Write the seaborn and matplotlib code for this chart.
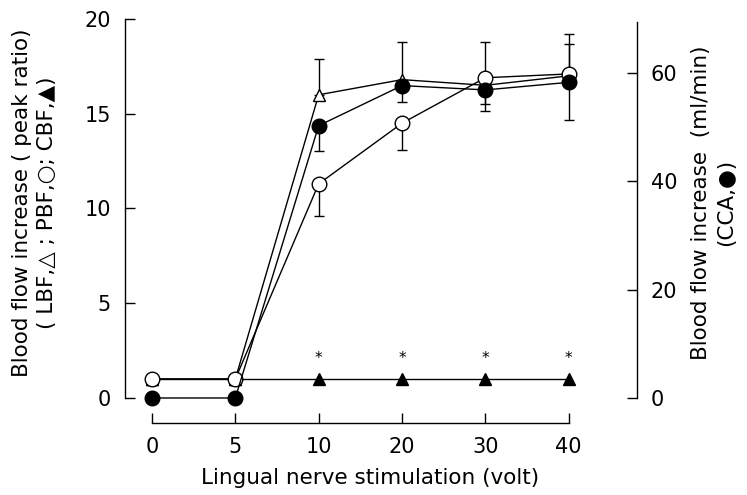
import numpy as np
import pandas as pd
import matplotlib
matplotlib.use("Agg")
import matplotlib.pyplot as plt
import seaborn as sns

# ---- data ----
volts = ["0", "5", "10", "20", "30", "40"]
lbf = [1.0, 1.0, 16.0, 16.8, 16.5, 17.0]          # open triangle, left axis
lbf_err_up = [0, 0, 1.9, 2.0, 2.3, 2.2]
pbf = [1.0, 1.0, 11.3, 14.5, 16.9, 17.1]          # open circle, left axis
pbf_err_down = [0, 0, 1.7, 1.4, 1.4, 0]
pbf_err_up = [0, 0, 0, 0, 0, 1.6]
cbf = [1.0, 1.0, 1.0, 1.0, 1.0, 1.0]              # filled triangle, left axis
cca = [0, 0, 50.3, 57.7, 56.9, 58.3]              # filled circle, right axis (ml/min)
cca_err_down = [0, 0, 4.6, 3.1, 3.9, 6.9]
signif = [False, False, True, True, True, True]

left_ticks = [0, 5, 10, 15, 20]
right_ticks = [0, 20, 40, 60]

sns.set_theme(style="ticks", rc={"axes.linewidth": 1.0, "axes.edgecolor": "black",
                                 "xtick.color": "black", "ytick.color": "black",
                                 "text.color": "black", "axes.labelcolor": "black"})
plt.rcParams["font.family"] = ["DejaVu Sans"]

fig = plt.figure(figsize=(7.47, 4.95), dpi=100)
ax = fig.add_axes([125 / 747, 72 / 495, 512 / 747, 404 / 495])
ax2 = ax.twinx()

pos = np.arange(len(volts))
df = pd.DataFrame({"pos": pos, "LBF": lbf, "PBF": pbf, "CBF": cbf, "CCA": cca})

common = dict(color="black", lw=1.0, markeredgecolor="black",
              markeredgewidth=1.0, zorder=3)


def errbars(axis, y, err, up=True):
    idx = [i for i, e in enumerate(err) if e > 0]
    if not idx:
        return
    yy = [y[i] for i in idx]
    ee = [err[i] for i in idx]
    zeros = [0] * len(idx)
    yerr = [zeros, ee] if up else [ee, zeros]
    axis.errorbar([pos[i] for i in idx], yy, yerr=yerr, fmt="none", ecolor="black",
                  elinewidth=1.0, capsize=3.5, capthick=1.0, zorder=2)


errbars(ax, lbf, lbf_err_up, up=True)
errbars(ax, pbf, pbf_err_down, up=False)
errbars(ax, pbf, pbf_err_up, up=True)
errbars(ax2, cca, cca_err_down, up=False)

sns.lineplot(data=df, x="pos", y="CBF", ax=ax, marker="^", markersize=8.5,
             markerfacecolor="black", **common)
sns.lineplot(data=df, x="pos", y="LBF", ax=ax, marker="^", markersize=8.5,
             markerfacecolor="white", **common)
sns.lineplot(data=df, x="pos", y="PBF", ax=ax, marker="o", markersize=10.5,
             markerfacecolor="white", **common)
sns.lineplot(data=df, x="pos", y="CCA", ax=ax2, marker="o", markersize=10.5,
             markerfacecolor="black", **common)

for i, s in enumerate(signif):
    if s:
        ax.annotate("*", (pos[i], cbf[i]), xytext=(0, 15), textcoords="offset points",
                    ha="center", va="center", fontsize=11)

ax.set_xlim(-0.324, 5.82)
ax.set_ylim(-1.32, 20)
ax2.set_ylim(-1.32 * 3.5, 70)

ax.set_xticks(pos)
ax.set_xticklabels(volts)
ax.set_yticks(left_ticks)
ax.set_yticklabels([str(t) for t in left_ticks])
ax2.set_yticks(right_ticks)
ax2.set_yticklabels([str(t) for t in right_ticks])

for a in (ax, ax2):
    a.tick_params(direction="in", length=7, width=1.0, labelsize=15)
ax.tick_params(axis="y", pad=10)
ax.tick_params(axis="x", pad=10)
ax2.tick_params(axis="y", pad=10)

ax.spines["top"].set_visible(False)
ax.spines["right"].set_visible(False)
ax.spines["left"].set_bounds(0, 20)
ax.spines["bottom"].set_bounds(0, 5)
for side in ("left", "top", "bottom"):
    ax2.spines[side].set_visible(False)
ax2.spines["right"].set_bounds(0, 69.5)

ax.set_xlabel("Lingual nerve stimulation (volt)", fontsize=15.5)
ax.xaxis.set_label_coords(0.4785, -0.112)
ax.set_ylabel("Blood flow increase ( peak ratio)\n( LBF,△ ; PBF,○; CBF,▲)",
              fontsize=15.5, linespacing=1.35)
ax.yaxis.set_label_coords(-0.132, 0.545)
ax2.set_ylabel("Blood flow increase  (ml/min)\n(CCA,●)", fontsize=15.5, linespacing=1.35)
ax2.yaxis.set_label_coords(1.105, 0.545)

fig.savefig("out.png", dpi=100)
